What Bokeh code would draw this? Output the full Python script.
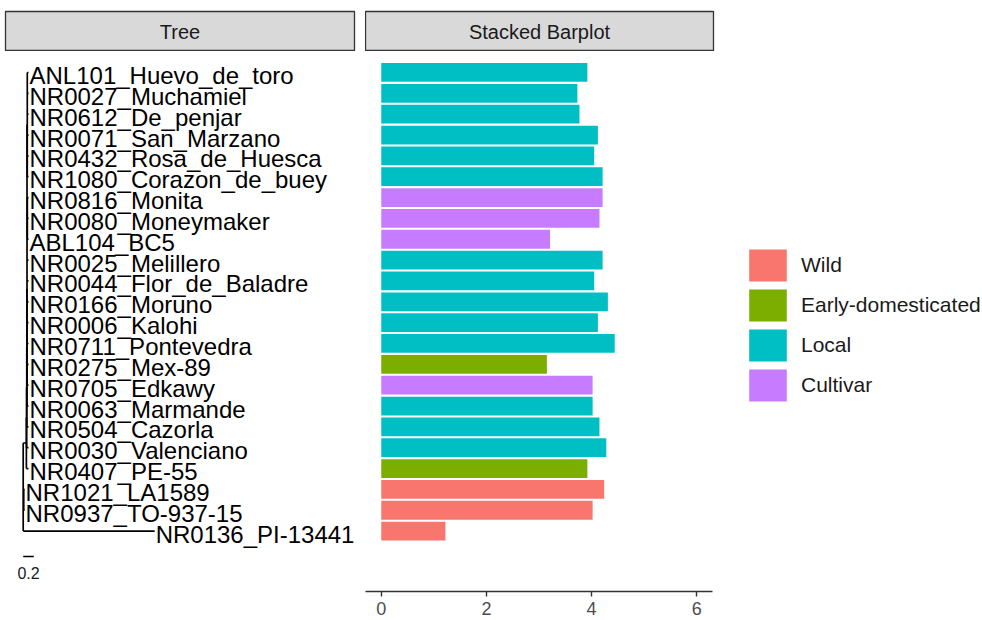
from bokeh.plotting import figure
from bokeh.models import (ColumnDataSource, Range1d, Label, Legend, LegendItem,
                          CDSView, GroupFilter, FixedTicker)
from bokeh.layouts import row, column
from bokeh.embed import file_html
from bokeh.resources import INLINE
from bokeh.core.properties import value

# ---------------- data ----------------
tip_labels = ["ANL101_Huevo_de_toro", "NR0027_Muchamiel", "NR0612_De_penjar",
              "NR0071_San_Marzano", "NR0432_Rosa_de_Huesca", "NR1080_Corazon_de_buey",
              "NR0816_Monita", "NR0080_Moneymaker", "ABL104_BC5", "NR0025_Melillero",
              "NR0044_Flor_de_Baladre", "NR0166_Moruno", "NR0006_Kalohi",
              "NR0711_Pontevedra", "NR0275_Mex-89", "NR0705_Edkawy", "NR0063_Marmande",
              "NR0504_Cazorla", "NR0030_Valenciano", "NR0407_PE-55", "NR1021_LA1589",
              "NR0937_TO-937-15", "NR0136_PI-13441"]
tip_groups = ["Local", "Local", "Local", "Local", "Local", "Local",
              "Cultivar", "Cultivar", "Cultivar", "Local", "Local", "Local", "Local",
              "Local", "Early-domesticated", "Cultivar", "Local", "Local", "Local",
              "Early-domesticated", "Wild", "Wild", "Wild"]
bar_values = [3.92, 3.73, 3.77, 4.12, 4.05, 4.21, 4.21, 4.15, 3.21, 4.21, 4.05, 4.31,
              4.12, 4.44, 3.15, 4.02, 4.02, 4.15, 4.28, 3.92, 4.24, 4.02, 1.22]

categories = ["Wild", "Early-domesticated", "Local", "Cultivar"]
cat_colors = ["#F8766D", "#7CAE00", "#00BFC4", "#C77CFF"]

# tree edges (parent -> child, branch length)
edge_parent = ["R", "R", "R", "NW", "NW", "N1", "N1", "N2", "N2", "N3", "N3", "N4", "N4",
               "N5", "N5", "N5", "N5", "N5", "N5", "N5", "N5", "N5",
               "N7", "N7", "N7", "N7", "N7", "N7", "N6", "N6", "N6"]
edge_child = ["N1", "NW", "NR0136_PI-13441", "NR1021_LA1589", "NR0937_TO-937-15",
              "N2", "NR0407_PE-55", "N3", "NR0030_Valenciano", "N4", "NR0504_Cazorla",
              "N5", "NR0063_Marmande",
              "N7", "N6", "NR0025_Melillero", "NR0044_Flor_de_Baladre", "NR0166_Moruno",
              "NR0006_Kalohi", "NR0711_Pontevedra", "NR0275_Mex-89", "NR0705_Edkawy",
              "ANL101_Huevo_de_toro", "NR0027_Muchamiel", "NR0612_De_penjar",
              "NR0071_San_Marzano", "NR0432_Rosa_de_Huesca", "NR1080_Corazon_de_buey",
              "NR0816_Monita", "NR0080_Moneymaker", "ABL104_BC5"]
edge_length = [0.06, 0.01, 2.48, 0.015, 0.015,
               0.004, 0.04, 0.003, 0.036, 0.003, 0.033,
               0.002, 0.03,
               0.005, 0.006, 0.028, 0.028, 0.028, 0.028, 0.028, 0.028, 0.028,
               0.023, 0.023, 0.023, 0.023, 0.023, 0.023, 0.022, 0.022, 0.022]

scale_bar_x = [0.0, 0.2]
scale_bar_y = -0.22
scale_bar_label = "0.2"
scale_label_y = -0.99

x_ticks = [0, 2, 4, 6]

# ---------------- tree layout ----------------
n_tips = len(tip_labels)
tip_y = {name: n_tips - i for i, name in enumerate(tip_labels)}
children = {}
blen = {}
for p_, c_, l_ in zip(edge_parent, edge_child, edge_length):
    children.setdefault(p_, []).append(c_)
    blen[c_] = l_

node_x = {"R": 0.0}
node_y = {}

def lay(node):
    for c in children.get(node, []):
        node_x[c] = node_x[node] + blen[c]
        lay(c)
    if node in tip_y:
        node_y[node] = tip_y[node]
    else:
        node_y[node] = sum(node_y[c] for c in children[node]) / len(children[node])

lay("R")

hx0, hx1, hy = [], [], []
for p_, c_ in zip(edge_parent, edge_child):
    hx0.append(node_x[p_]); hx1.append(node_x[c_]); hy.append(node_y[c_])
vx, vy0, vy1 = [], [], []
for p_, cs in children.items():
    ys = [node_y[c] for c in cs]
    vx.append(node_x[p_]); vy0.append(min(ys)); vy1.append(max(ys))

FONT = "Liberation Sans"
Y_RANGE = (-1.898, 24.007)
FRAME_H = 540
BOTTOM = 27

# ---------------- strip headers ----------------
def header(text, fw, left_border, right_border):
    h = figure(frame_width=fw, frame_height=40, output_backend="svg",
               toolbar_location=None, x_range=Range1d(0, 1), y_range=Range1d(0, 1),
               min_border_left=left_border, min_border_right=right_border,
               min_border_top=11, min_border_bottom=0)
    h.axis.visible = False
    h.grid.visible = False
    h.background_fill_color = "#D9D9D9"
    h.outline_line_color = "#333333"
    h.outline_line_width = 1.3
    h.add_layout(Label(x=0.5, y=0.5, text=text, text_align="center",
                       text_baseline="middle", text_font=FONT,
                       text_font_size="20px", text_color="#1A1A1A"))
    return h

h1 = header("Tree", 349, 5, 11)
h2 = header("Stacked Barplot", 348, 0, 266)

# ---------------- tree panel ----------------
pt = figure(frame_width=349, frame_height=FRAME_H, output_backend="svg",
            toolbar_location=None, x_range=Range1d(-0.334, 6.251),
            y_range=Range1d(*Y_RANGE), min_border_left=5, min_border_right=11,
            min_border_top=0, min_border_bottom=BOTTOM)
pt.axis.visible = False
pt.grid.visible = False
pt.outline_line_color = None

pt.segment(x0=hx0, y0=hy, x1=hx1, y1=hy, line_color="black", line_width=1.7)
pt.segment(x0=vx, y0=vy0, x1=vx, y1=vy1, line_color="black", line_width=1.7)

tip_src = ColumnDataSource(dict(x=[node_x[t] for t in tip_labels],
                                y=[tip_y[t] for t in tip_labels],
                                label=tip_labels))
pt.text(x="x", y="y", text="label", source=tip_src, text_font=value(FONT),
        text_font_size="24px", text_align="left", text_baseline="middle",
        x_offset=1, y_offset=3, text_color="black")

pt.segment(x0=[scale_bar_x[0]], y0=[scale_bar_y], x1=[scale_bar_x[1]], y1=[scale_bar_y],
           line_color="black", line_width=1.4)
pt.text(x=[sum(scale_bar_x) / 2], y=[scale_label_y], text=[scale_bar_label],
        text_font=value(FONT), text_font_size="16px", text_align="center",
        text_baseline="middle", text_color="#1A1A1A")

# ---------------- bar panel ----------------
pb = figure(frame_width=347, frame_height=FRAME_H, output_backend="svg",
            toolbar_location=None, x_range=Range1d(-0.3, 6.3),
            y_range=Range1d(*Y_RANGE), min_border_left=0, min_border_right=267,
            min_border_top=0, min_border_bottom=BOTTOM)
pb.yaxis.visible = False
pb.grid.visible = False
pb.outline_line_color = None

bar_src = ColumnDataSource(dict(y=[tip_y[t] for t in tip_labels], value=bar_values,
                                group=tip_groups, label=tip_labels))
items = []
for cat, col in zip(categories, cat_colors):
    r = pb.hbar(y="y", left=0, right="value", height=0.9, source=bar_src,
                view=CDSView(filter=GroupFilter(column_name="group", group=cat)),
                fill_color=col, line_color=None)
    items.append(LegendItem(label=cat, renderers=[r]))

xa = pb.xaxis[0]
xa.ticker = FixedTicker(ticks=x_ticks)
xa.axis_line_color = "#333333"
xa.axis_line_width = 1.4
xa.major_tick_line_color = "#333333"
xa.major_tick_line_width = 1.4
xa.major_tick_out = 5
xa.major_tick_in = 0
xa.minor_tick_out = 0
xa.minor_tick_in = 0
xa.major_label_standoff = 5
xa.major_label_text_font = FONT
xa.major_label_text_font_size = "18px"
xa.major_label_text_color = "#4D4D4D"

legend = Legend(items=items, location=(32, 186), orientation="vertical",
                glyph_width=47, glyph_height=40, spacing=0, label_standoff=10,
                padding=0, margin=0, border_line_alpha=0, background_fill_alpha=0,
                label_text_font=FONT, label_text_font_size="21px",
                label_text_color="#1A1A1A", label_text_baseline="middle")
pb.add_layout(legend, "right")

layout = row(column(h1, pt, spacing=0), column(h2, pb, spacing=0), spacing=0)

open("out.html", "w").write(file_html(layout, INLINE))
